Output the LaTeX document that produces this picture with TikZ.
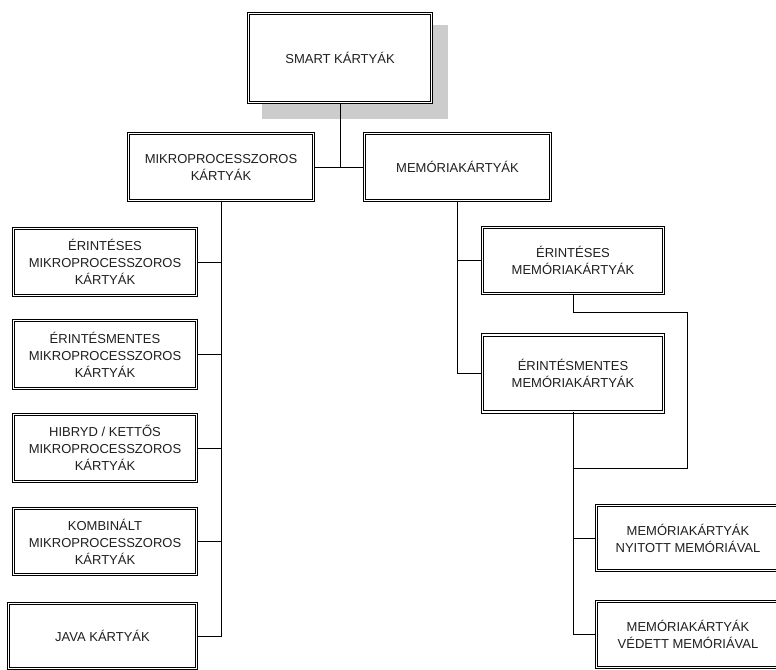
\documentclass[tikz,border=0pt]{standalone}
\usepackage{fontspec}
\setmainfont{Liberation Sans}
\begin{document}
\begin{tikzpicture}[x=1pt,y=-1pt,
  card/.style={draw=black, fill=white, line width=0.8pt, double=white, double distance=1.8pt,
    align=center, inner sep=2pt, text=black!88,
    font=\fontsize{13}{17}\selectfont},
  link/.style={draw=black, line width=0.9pt}]
\path[use as bounding box, clip] (0,0) rectangle (776,669);

% drop shadow of the root box
\fill[black!20] (262,25) rectangle (448,119);

% root and the two main families
\node[card, minimum width=183pt, minimum height=89pt] (root) at (340,58) {SMART KÁRTYÁK};
\node[card, minimum width=185pt, minimum height=67pt] (mikro) at (221,167) {MIKROPROCESSZOROS\\KÁRTYÁK};
\node[card, minimum width=186pt, minimum height=67pt] (mem) at (457.5,167) {MEMÓRIAKÁRTYÁK};

% microprocessor card types
\node[card, minimum width=183pt, minimum height=67pt] (l1) at (105,262) {ÉRINTÉSES\\MIKROPROCESSZOROS\\KÁRTYÁK};
\node[card, minimum width=183pt, minimum height=68pt] (l2) at (105,354.5) {ÉRINTÉSMENTES\\MIKROPROCESSZOROS\\KÁRTYÁK};
\node[card, minimum width=183pt, minimum height=67pt] (l3) at (105,448) {HIBRYD / KETTŐS\\MIKROPROCESSZOROS\\KÁRTYÁK};
\node[card, minimum width=183pt, minimum height=66pt] (l4) at (105,541.5) {KOMBINÁLT\\MIKROPROCESSZOROS\\KÁRTYÁK};
\node[card, minimum width=188pt, minimum height=65pt] (java) at (102.5,636) {JAVA KÁRTYÁK};

% memory card types
\node[card, minimum width=181pt, minimum height=66pt] (r1) at (573,260.5) {ÉRINTÉSES\\MEMÓRIAKÁRTYÁK};
\node[card, minimum width=181pt, minimum height=77pt] (r2) at (573,373.5) {ÉRINTÉSMENTES\\MEMÓRIAKÁRTYÁK};
\node[card, minimum width=183pt, minimum height=65pt] (r3) at (688,538) {MEMÓRIAKÁRTYÁK\\NYITOTT MEMÓRIÁVAL};
\node[card, minimum width=183pt, minimum height=66pt] (r4) at (688,634.5) {MEMÓRIAKÁRTYÁK\\VÉDETT MEMÓRIÁVAL};

% connectors
\draw[link] (mikro.east) -- (mem.west);
\draw[link] (root.south) -- (root.south |- mikro.east);

\draw[link] (mikro.south) |- (java.east);
\foreach \n in {l1,l2,l3,l4}
  \draw[link] (\n.east) -- (\n.east -| mikro.south);

\draw[link] (mem.south) |- (r2.west);
\draw[link] (r1.west) -- (r1.west -| mem.south);

\coordinate (loopA) at (687,312);
\coordinate (loopB) at (573,468);
\draw[link] (r1.south) |- (loopA) |- (loopB);

\draw[link] (r2.south) |- (r4.west);
\draw[link] (r3.west) -- (r3.west -| r2.south);
\end{tikzpicture}
\end{document}
